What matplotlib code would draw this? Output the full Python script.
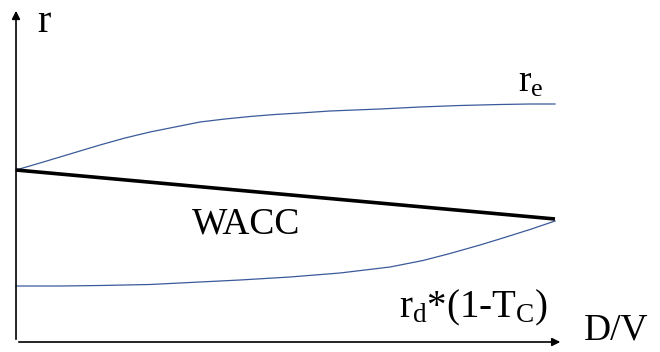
import matplotlib.pyplot as plt

plt.rcParams['font.family'] = ['Liberation Serif', 'DejaVu Serif']
plt.rcParams['mathtext.fontset'] = 'custom'
plt.rcParams['mathtext.rm'] = 'Liberation Serif'
plt.rcParams['mathtext.it'] = 'Liberation Serif'

# D/V share (0..1) and cost of capital (arbitrary units)
re_x = [0, 0.0445, 0.0816, 0.1187, 0.1558, 0.2022, 0.2486, 0.2950, 0.3414, 0.3878,
        0.4341, 0.4805, 0.5269, 0.5826, 0.6753, 0.7495, 0.8237, 0.8980, 0.9536, 1.0]
re_y = [17.2, 17.9, 18.5, 19.1, 19.7, 20.4, 21.0, 21.5, 22.0, 22.3,
        22.55, 22.75, 22.9, 23.1, 23.3, 23.5, 23.65, 23.75, 23.8, 23.8]

wacc_x = [0, 1.0]
wacc_y = [17.2, 12.3]

rd_x = [0, 0.0816, 0.1558, 0.2486, 0.3228, 0.4156, 0.5083, 0.6011, 0.6939, 0.7551,
        0.8052, 0.8609, 0.9035, 0.9536, 1.0]
rd_y = [5.6, 5.6, 5.65, 5.75, 5.95, 6.2, 6.5, 6.9, 7.5, 8.15,
        8.85, 9.7, 10.4, 11.25, 12.1]

fig = plt.figure(figsize=(6.6, 3.52), dpi=100)
ax = fig.add_axes([0, 0, 1, 1])
ax.set_xlim(-0.0297, 1.1948)
ax.set_ylim(-1.0, 34.2)
ax.axis('off')

blue = '#3b5a9a'
ax.plot(re_x, re_y, color=blue, lw=0.9)
ax.plot(rd_x, rd_y, color=blue, lw=0.9)
ax.plot(wacc_x, wacc_y, color='black', lw=2.6, solid_capstyle='butt')

# axes arrows
arr = dict(arrowstyle='-|>', color='black', lw=1.2, mutation_scale=12)
ax.annotate('', xy=(0, 33.4), xytext=(0, 0), arrowprops=arr)
ax.annotate('', xy=(1.015, 0), xytext=(0, 0), arrowprops=arr)

ax.text(0.039, 31.0, 'r', fontsize=29, va='baseline')
ax.text(1.053, 0.2, 'D/V', fontsize=27, va='baseline')
ax.text(0.931, 25.0, r'$\mathrm{r_e}$', fontsize=27, va='baseline')
ax.text(0.326, 10.9, 'WACC', fontsize=27, va='baseline')
ax.text(0.710, 2.5, r'$\mathrm{r_d}$*(1-T$_\mathrm{C}$)', fontsize=28, va='baseline')

fig.savefig('out.png', dpi=100)
